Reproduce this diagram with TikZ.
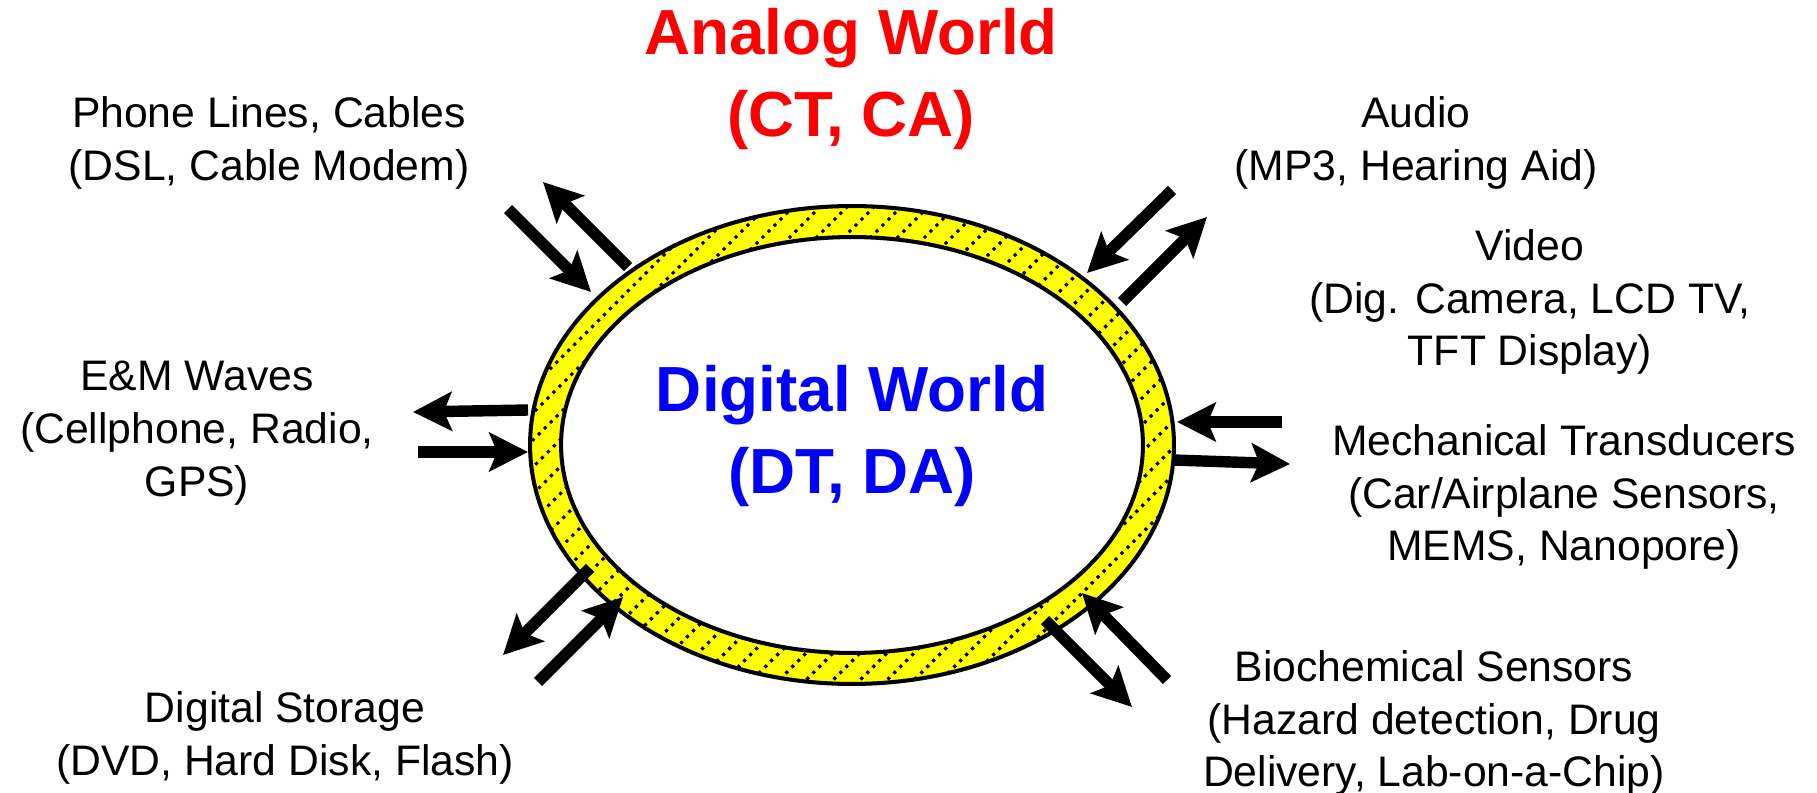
\documentclass[tikz,border=0pt]{standalone}
\usepackage{fontspec}
\setmainfont{Liberation Sans}
\usetikzlibrary{arrows.meta}
\definecolor{ringyellow}{RGB}{255,255,0}
\definecolor{titlered}{RGB}{255,0,0}
\definecolor{titleblue}{RGB}{0,0,255}
\begin{document}
\begin{tikzpicture}[x=0.02cm,y=-0.02cm,
  lbl/.style={align=center,font=\fontsize{24.3}{30}\selectfont,inner sep=0pt},
  ttl/.style={align=center,font=\fontsize{36.3}{47}\selectfont\bfseries,inner sep=0pt},
  io/.style={line width=6.5pt,-{Stealth[length=22pt,width=22pt,inset=4.5pt]}},
  hatch/.style={line width=1.8pt,dash pattern=on 1.8pt off 3pt},
  rim/.style={line width=2.3pt},
]
\path[use as bounding box] (0,0) rectangle (1817,793);
\coordinate (c) at (852,445);
% ring
\fill[ringyellow,even odd rule] (c) ellipse [x radius=6.44cm,y radius=4.78cm]
  (c) ellipse [x radius=5.82cm,y radius=4.16cm];
\begin{scope}[even odd rule]
  \clip (c) ellipse [x radius=6.44cm,y radius=4.78cm]
    (c) ellipse [x radius=5.82cm,y radius=4.16cm];
  \foreach \k in {-30,...,30}
    \draw[hatch] ({552+27*\k},745) -- ++(600,-600);
\end{scope}
\draw[rim] (c) ellipse [x radius=6.44cm,y radius=4.78cm];
\draw[rim] (c) ellipse [x radius=5.82cm,y radius=4.16cm];

% titles
\node[ttl,text=titlered] (analog) at (851,79) {Analog World\\(CT, CA)};
\node[ttl,text=titleblue] (digital) at (852,436) {Digital World\\(DT, DA)};

% labels
\node[lbl] (phone) at (269,143) {Phone Lines, Cables\\(DSL, Cable Modem)};
\node[lbl] (audio) at (1416,143) {Audio\\(MP3, Hearing Aid)};
\node[lbl] (video) at (1530,302) {Video\\(Dig. Camera, LCD TV,\\TFT Display)};
\node[lbl] (em) at (197,433) {E\&M Waves\\(Cellphone, Radio,\\GPS)};
\node[lbl] (mech) at (1564,497) {Mechanical Transducers\\(Car/Airplane Sensors,\\MEMS, Nanopore)};
\node[lbl] (storage) at (285,738) {Digital Storage\\(DVD, Hard Disk, Flash)};
\node[lbl] (bio) at (1434,723) {Biochemical Sensors\\(Hazard detection, Drug\\Delivery, Lab-on-a-Chip)};

% arrow end points
\coordinate (pin0) at (508,209);  \coordinate (pin1) at (591,292);
\coordinate (pout0) at (628,267); \coordinate (pout1) at (543,182);
\coordinate (ain0) at (1172,190); \coordinate (ain1) at (1087,273);
\coordinate (aout0) at (1122,302); \coordinate (aout1) at (1207,217);
\coordinate (eout0) at (528,410); \coordinate (eout1) at (413,412);
\coordinate (ein0) at (418,452);  \coordinate (ein1) at (528,452);
\coordinate (min0) at (1282,422); \coordinate (min1) at (1177,422);
\coordinate (mout0) at (1173,460); \coordinate (mout1) at (1290,464);
\coordinate (sout0) at (590,568); \coordinate (sout1) at (503,655);
\coordinate (sin0) at (538,682);  \coordinate (sin1) at (623,597);
\coordinate (bout0) at (1045,620); \coordinate (bout1) at (1132,707);
\coordinate (bin0) at (1167,680); \coordinate (bin1) at (1082,593);

\draw[io] (pin0) -- (pin1);
\draw[io] (pout0) -- (pout1);
\draw[io] (ain0) -- (ain1);
\draw[io] (aout0) -- (aout1);
\draw[io] (eout0) -- (eout1);
\draw[io] (ein0) -- (ein1);
\draw[io] (min0) -- (min1);
\draw[io] (mout0) -- (mout1);
\draw[io] (sout0) -- (sout1);
\draw[io] (sin0) -- (sin1);
\draw[io] (bout0) -- (bout1);
\draw[io] (bin0) -- (bin1);
\end{tikzpicture}
\end{document}
